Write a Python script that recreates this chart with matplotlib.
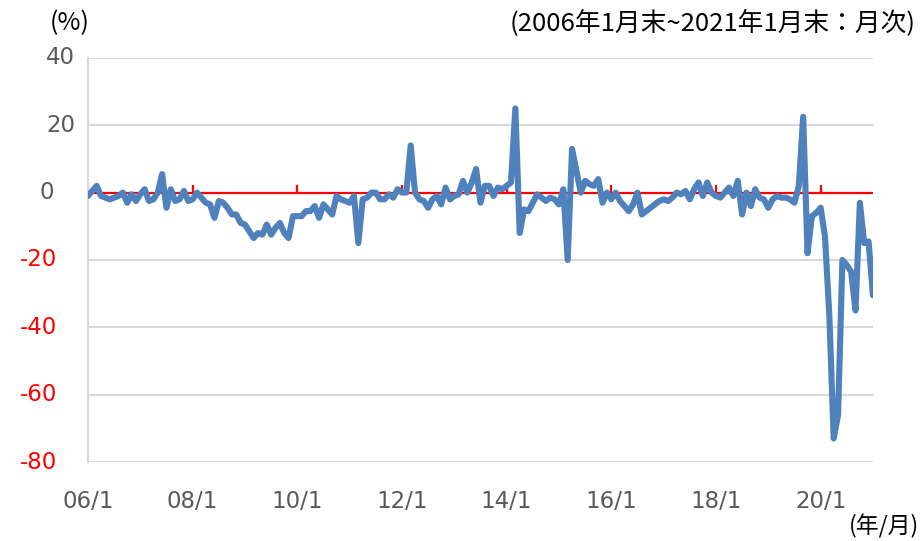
import matplotlib.pyplot as plt
import matplotlib.transforms as mtransforms

plt.rcParams['font.family'] = ['DejaVu Sans', 'Noto Sans CJK JP']

# 月次データ (2006年1月末 ~ 2021年1月末), 単位: %
vals_2006_2009 = [
    -1, 0.5, 2, -1, -1.5, -2, -1.5, -1, 0, -3, -0.5, -2.5,
    -0.5, 1, -2.5, -2, 0, 5.5, -4.5, 1, -2.5, -2, 0.5, -2.5,
    -2, 0, -1.5, -3, -3.5, -7.5, -2.5, -3, -4.5, -6.5, -6.5, -9,
    -9.5, -11.5, -13.5, -12, -12.5, -9.5, -12.5, -10.5, -9, -12, -13.5, -7,
]
vals_2010_2013 = [
    -7, -7, -5.5, -5.5, -4, -7.5, -3.5, -5, -6.5, -1, -2, -2.5,
    -3, -1, -15, -2, -1.5, 0, 0, -2, -2, -0.5, -1.5, 1,
    0, 0, 14, 0, -2, -2.5, -4.5, -2, -1, -3.5, 1.5, -2,
    -1, -0.5, 3.5, 0, 3, 7, -3, 2, 2, -1, 1.5, 1,
]
vals_2014_2017 = [
    2, 3, 25, -12, -5, -5.5, -3, -0.5, -1.5, -2.5, -1.5, -2,
    -3.5, 1, -20, 13, 6.5, 0, 3.5, 2.5, 2, 4, -3, 0,
    -2, 0, -2.5, -4, -5.5, -3.5, 0, -6.5, -5.5, -4.5, -3.5, -2.5,
    -2, -2.5, -1.5, 0, -0.5, 0.5, -2, 1, 3, -1, 3, 0,
]
vals_2018_2021 = [
    -1, -1.5, 0, 1.5, -1, 3.5, -6.5, 0, -4, 1, -1.5, -2,
    -4.5, -2, -1, -1.5, -1.5, -2, -3, 2, 22.5, -18, -7, -6,
    -4.5, -13, -36.5, -73, -66, -20, -21.5, -23.5, -35, -3, -15, -14.5,
    -30.5,
]
values = vals_2006_2009 + vals_2010_2013 + vals_2014_2017 + vals_2018_2021
months = list(range(len(values)))

x_tick_pos = [0, 24, 48, 72, 96, 120, 144, 168]
x_tick_labels = ["06/1", "08/1", "10/1", "12/1", "14/1", "16/1", "18/1", "20/1"]
y_ticks = [40, 20, 0, -20, -40, -60, -80]

fig = plt.figure(figsize=(9.22, 5.41), dpi=100)
ax = fig.add_axes([0.0954, 0.146, 0.8514, 0.747])

# グリッド線
for yv in y_ticks:
    if yv != 0:
        ax.axhline(yv, color="#d9d9d9", lw=1.5, zorder=1)
ax.axhline(0, color="#ff0000", lw=1.6, zorder=2)
ax.vlines(x_tick_pos, 0, 2.2, color="#ff0000", lw=1.6, zorder=2)

ax.plot(months, values, color="#4f81bd", lw=4.4, solid_joinstyle="round",
        solid_capstyle="round", zorder=3)

ax.set_xlim(0, 180)
ax.set_ylim(-80, 40)

for s in ["top", "right", "bottom"]:
    ax.spines[s].set_visible(False)
ax.spines["left"].set_color("#d9d9d9")
ax.spines["left"].set_linewidth(1.5)

# y軸ラベル (元図の書式に合わせて位置を個別に)
ax.set_yticks([])
trans = mtransforms.blended_transform_factory(fig.transFigure, ax.transData)
for v in y_ticks:
    if v > 0:
        xr, col = 75, "#595959"
    elif v == 0:
        xr, col = 54, "#595959"
    else:
        xr, col = 57, "#ff0000"
    ax.text(xr / 922, v, str(v), transform=trans, ha="right", va="center",
            fontsize=16.5, color=col)

ax.set_xticks(x_tick_pos)
ax.set_xticklabels(x_tick_labels, fontsize=16.5, color="#595959")
ax.tick_params(axis="x", length=0, pad=20)

fig.text(50 / 922, 1 - 23 / 541, "(%)", fontsize=18, color="#000000",
         ha="left", va="center", family=["Noto Sans CJK JP", "DejaVu Sans"])
fig.text(916 / 922, 1 - 23 / 541, "(2006年1月末~2021年1月末：月次)", fontsize=18.5,
         color="#000000", ha="right", va="center",
         family=["Noto Sans CJK JP", "DejaVu Sans"])
fig.text(919 / 922, 1 - 526 / 541, "(年/月)", fontsize=16.5, color="#000000",
         ha="right", va="center", family=["Noto Sans CJK JP", "DejaVu Sans"])

fig.savefig("out.png", dpi=100)
